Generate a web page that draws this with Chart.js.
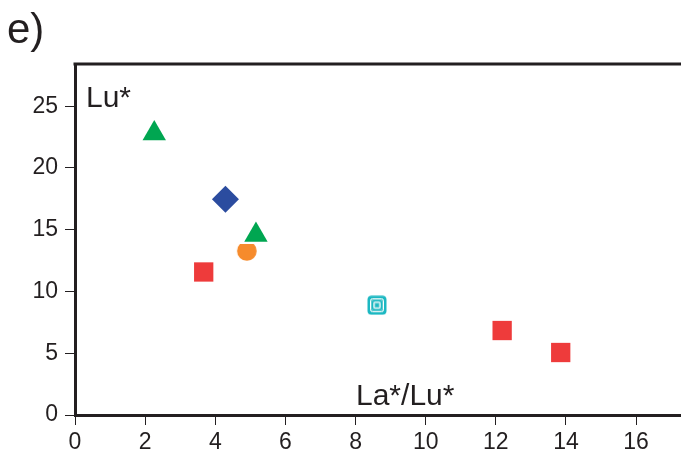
<!DOCTYPE html>
<html>
<head>
<meta charset="utf-8">
<script src="https://cdn.jsdelivr.net/npm/chart.js@4/dist/chart.umd.min.js"></script>
<style>
  html, body { margin: 0; padding: 0; background: #fff; overflow: hidden; }
  #wrap { width: 681px; height: 454px; position: relative; }
</style>
</head>
<body>
<div id="wrap"><canvas id="chart"></canvas></div>
<script>
// values, [La*/Lu*, Lu*]
const greenTriangles = [[2.26, 22.8], [5.16, 14.57]];
const blueDiamonds = [[4.29, 17.47]];
const orangeCircles = [[4.9, 13.28]];
const redSquares = [[3.67, 11.58], [12.18, 6.84], [13.85, 5.06]];
const cyanSquares = [[8.61, 8.89]];

const xTicks = [0, 2, 4, 6, 8, 10, 12, 14, 16];
const yTicks = [0, 5, 10, 15, 20, 25];

const ink = "#231f20";
const tickFont = { family: "'Liberation Sans Narrow', 'Liberation Sans', Arial, sans-serif", size: 23 };

const toPts = (arr) => arr.map(([x, y]) => ({ x, y }));

// half-clipped circle marker
function makeOrangeMarker() {
  const c = document.createElement("canvas");
  c.width = 22; c.height = 22;
  const ctx = c.getContext("2d");
  ctx.beginPath();
  ctx.rect(0, 4, 22, 18);
  ctx.clip();
  ctx.fillStyle = "#f68b2c";
  ctx.beginPath();
  ctx.arc(11, 11, 9.8, 0, Math.PI * 2);
  ctx.fill();
  return c;
}

// concentric rounded square marker
function makeCyanMarker() {
  const c = document.createElement("canvas");
  c.width = 20; c.height = 20;
  const ctx = c.getContext("2d");
  const rr = (i, r) => {
    ctx.beginPath();
    ctx.roundRect(i, i, 20 - 2 * i, 20 - 2 * i, r);
  };
  ctx.fillStyle = "#1cb8c2";
  rr(0.5, 4); ctx.fill();
  ctx.fillStyle = "#5fcad1";
  rr(3.5, 2); ctx.fill();
  ctx.lineWidth = 1;
  ctx.strokeStyle = "#ffffff";
  rr(3.5, 2); ctx.stroke();
  ctx.strokeStyle = "#1cb8c2";
  rr(5.5, 1.5); ctx.stroke();
  ctx.strokeStyle = "#ffffff";
  rr(7, 1); ctx.stroke();
  ctx.fillStyle = "#1cb8c2";
  rr(8.5, 0.5); ctx.fill();
  return c;
}

const labelsPlugin = {
  id: "panelLabels",
  afterDraw(chart) {
    const ctx = chart.ctx;
    const area = chart.chartArea;
    ctx.save();
    // top frame line
    ctx.strokeStyle = ink;
    ctx.lineWidth = 3;
    ctx.beginPath();
    ctx.moveTo(area.left - 1.5, area.top);
    ctx.lineTo(area.right, area.top);
    ctx.stroke();

    ctx.fillStyle = ink;
    ctx.textBaseline = "alphabetic";
    ctx.textAlign = "left";
    ctx.font = "42px 'Liberation Sans', Arial, sans-serif";
    ctx.fillText("e)", 7, 43);
    ctx.font = "30px 'Liberation Sans', Arial, sans-serif";
    ctx.fillText("Lu*", 86, 107);
    ctx.fillText("La*/Lu*", 356, 405);
    ctx.restore();
  }
};

const ticksFrom = (list) => (scale) => {
  scale.ticks = list.map((v) => ({ value: v }));
};

new Chart(document.getElementById("chart"), {
  type: "scatter",
  data: {
    datasets: [
      {
        label: "green",
        data: toPts(greenTriangles),
        pointStyle: "triangle",
        pointRadius: 13.5,
        backgroundColor: "#00a651",
        borderWidth: 0,
      },
      {
        label: "blue",
        data: toPts(blueDiamonds),
        pointStyle: "rectRot",
        pointRadius: 13.5,
        backgroundColor: "#2b4c9f",
        borderWidth: 0,
      },
      {
        label: "orange",
        data: toPts(orangeCircles),
        pointStyle: makeOrangeMarker(),
        backgroundColor: "#f68b2c",
        borderWidth: 0,
      },
      {
        label: "red",
        data: toPts(redSquares),
        pointStyle: "rect",
        pointRadius: 13.65,
        backgroundColor: "#ee3b3b",
        borderWidth: 0,
      },
      {
        label: "cyan",
        data: toPts(cyanSquares),
        pointStyle: makeCyanMarker(),
        backgroundColor: "#1cb8c2",
        borderWidth: 0,
      },
    ],
  },
  options: {
    responsive: true,
    maintainAspectRatio: false,
    animation: false,
    layout: { autoPadding: false, padding: { top: 64, right: 0, left: 0, bottom: 0 } },
    plugins: { legend: { display: false }, tooltip: { enabled: false } },
    scales: {
      x: {
        type: "linear",
        min: 0,
        max: 17.28,
        afterBuildTicks: ticksFrom(xTicks),
        afterFit(scale) {
          scale.height = 39;
          scale.paddingLeft = 0;
          scale.paddingRight = 0;
        },
        border: { display: true, color: ink, width: 3 },
        grid: { drawOnChartArea: false, drawTicks: true, tickLength: 10, tickWidth: 1, tickColor: ink },
        ticks: { color: ink, font: tickFont, padding: 4, maxRotation: 0 },
      },
      y: {
        type: "linear",
        min: 0,
        max: 28.42,
        afterBuildTicks: ticksFrom(yTicks),
        afterFit(scale) {
          scale.width = 75;
          scale.paddingTop = 0;
          scale.paddingBottom = 0;
        },
        border: { display: true, color: ink, width: 3 },
        grid: { drawOnChartArea: false, drawTicks: true, tickLength: 10, tickWidth: 1, tickColor: ink },
        ticks: { color: ink, font: tickFont, padding: 7 },
      },
    },
  },
  plugins: [labelsPlugin],
});
</script>
</body>
</html>
